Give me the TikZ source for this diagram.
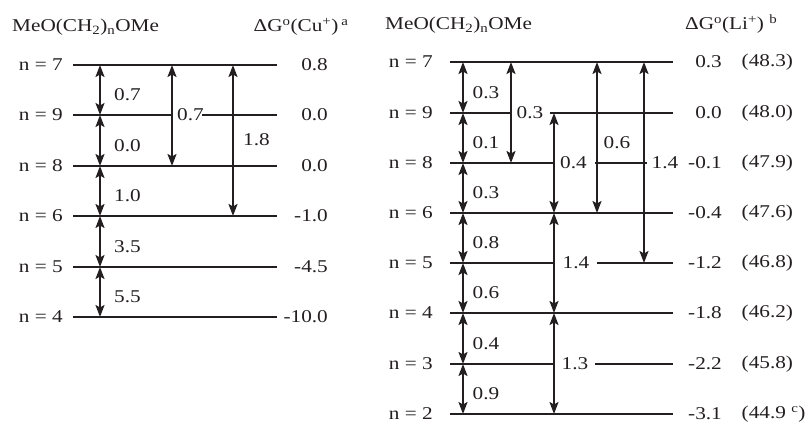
\documentclass[tikz,border=0pt]{standalone}
\usepackage{fontspec}
\setmainfont[FakeStretch=1.18]{Liberation Serif}
\usetikzlibrary{arrows.meta,calc}
\definecolor{ink}{HTML}{231F20}

\begin{document}
\begin{tikzpicture}[x=1pt,y=-1pt,
  font=\fontsize{18}{22}\selectfont,
  level/.style={draw=ink, line width=2pt},
  dbl/.style={draw=ink, line width=2pt,
    {Stealth[length=12pt,width=9pt,inset=2.5pt]}-{Stealth[length=12pt,width=9pt,inset=2.5pt]}},
  txt/.style={inner sep=0pt, text=ink},
  nlab/.style={txt, anchor=east},
  val/.style={txt, anchor=east},
  diff/.style={txt, anchor=west},
  title/.style={txt, anchor=base west}]
\useasboundingbox (0,0) rectangle (807,423);

% ---------------- Cu+ ladder ----------------
\node[title] (Ltitle) at (12,31.5) {MeO(CH\textsubscript{2})\textsubscript{n}OMe};
\node[title] (Lhead) at (253.5,31.5) {ΔG\textsuperscript{o}(Cu\textsuperscript{+})\,\textsuperscript{a}};

\foreach \n/\y/\v in {7/65/0.8, 9/115/0.0, 8/166/0.0, 6/216/-1.0, 5/267/-4.5, 4/317/-10.0} {
  \node[nlab] (Ln\n) at (63,\y) {n = \n};
  \node[val] (Lv\n) at (328,\y) {\v};
  \coordinate (LL\n) at (73,\y);
  \coordinate (LR\n) at (277,\y);
  \coordinate (LA\n) at (100,\y);
  \coordinate (LB\n) at (172,\y);
  \coordinate (LC\n) at (233,\y);
}
\coordinate (LG9) at (202,115);

\draw[level] (LL7) -- (LR7);
\draw[level] (LL9) -- (LB9) (LG9) -- (LR9);
\foreach \n in {8,6,5,4} \draw[level] (LL\n) -- (LR\n);

% neighbouring levels
\foreach \a/\b/\d in {7/9/0.7, 9/8/0.0, 8/6/1.0, 6/5/3.5, 5/4/5.5} {
  \draw[dbl] (LA\a) -- (LA\b);
  \node[diff] (Ld\a\b) at ($(LA\a)!0.5!(LA\b)+(14,5)$) {\d};
}
% longer gaps
\draw[dbl] (LB7) -- (LB8);
\node[diff] (Ld78) at (177,115) {0.7};
\draw[dbl] (LC7) -- (LC6);
\node[diff] (Ld76) at (243,140) {1.8};

% ---------------- Li+ ladder ----------------
\node[title] (Rtitle) at (385,30) {MeO(CH\textsubscript{2})\textsubscript{n}OMe};
\node[title] (Rhead) at (685,29.5) {ΔG\textsuperscript{o}(Li\textsuperscript{+}) \textsuperscript{b}};

\foreach \n/\y/\v/\p in {7/62/0.3/{(48.3)}, 9/113/0.0/{(48.0)}, 8/163/-0.1/{(47.9)},
    6/213/-0.4/{(47.6)}, 5/263/-1.2/{(46.8)}, 4/313/-1.8/{(46.2)},
    3/364/-2.2/{(45.8)}, 2/414/-3.1/{(44.9 \textsuperscript{c})}} {
  \node[nlab] (Rn\n) at (433,\y) {n = \n};
  \node[val] (Rv\n) at (722,\y) {\v};
  \node[txt, anchor=west] (Rp\n) at (741.5,\y) {\p};
  \coordinate (RL\n) at (450,\y);
  \coordinate (RR\n) at (673,\y);
  \coordinate (RA\n) at (463,\y);
  \coordinate (RB\n) at (511,\y);
  \coordinate (RC\n) at (554,\y);
  \coordinate (RD\n) at (597,\y);
  \coordinate (RE\n) at (644,\y);
}
\coordinate (RG9) at (550,113);
\coordinate (RG8) at (595,163);
\coordinate (RH8) at (647,163);
\coordinate (RG5) at (597,263);
\coordinate (RG3) at (595,364);

\draw[level] (RL7) -- (RR7);
\draw[level] (RL9) -- (RB9) (RG9) -- (RR9);
\draw[level] (RL8) -- (RC8) (RG8) -- (RH8);
\draw[level] (RL6) -- (RR6);
\draw[level] (RL5) -- (RC5) (RG5) -- (RR5);
\draw[level] (RL4) -- (RR4);
\draw[level] (RL3) -- (RC3) (RG3) -- (RR3);
\draw[level] (RL2) -- (RR2);

% neighbouring levels
\foreach \a/\b/\d in {7/9/0.3, 9/8/0.1, 8/6/0.3, 6/5/0.8, 5/4/0.6, 4/3/0.4, 3/2/0.9} {
  \draw[dbl] (RA\a) -- (RA\b);
  \node[diff] (Rd\a\b) at ($(RA\a)!0.5!(RA\b)+(9.5,5)$) {\d};
}
% longer gaps
\draw[dbl] (RB7) -- (RB8);
\node[diff] (Rd78) at (516.5,113) {0.3};
\draw[dbl] (RC9) -- (RC6);
\node[diff] (Rd96) at (560,163) {0.4};
\draw[dbl] (RC6) -- (RC4);
\node[diff] (Rd64) at (562.5,263) {1.4};
\draw[dbl] (RC4) -- (RC2);
\node[diff] (Rd42) at (561.5,364) {1.3};
\draw[dbl] (RD7) -- (RD6);
\node[diff] (Rd76) at (603.5,143) {0.6};
\draw[dbl] (RE7) -- (RE5);
\node[diff] (Rd75) at (651.5,163) {1.4};
\end{tikzpicture}
\end{document}
